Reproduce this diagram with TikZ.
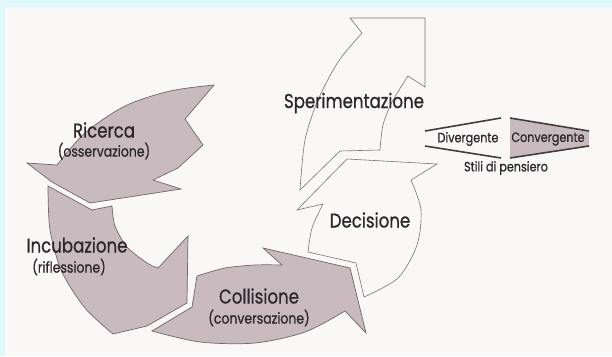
\documentclass[tikz,border=0pt]{standalone}
\usepackage{fontspec}
\setmainfont{Poppins}[FakeStretch=0.83, FakeBold=0.7]
\definecolor{framecyan}{RGB}{222,248,251}
\definecolor{paper}{RGB}{249,248,246}
\definecolor{arrowgray}{RGB}{200,186,191}
\definecolor{edgegray}{RGB}{112,102,107}
\definecolor{thinline}{RGB}{120,116,119}
\definecolor{ink}{RGB}{45,39,44}
\newcommand{\bigtxt}{\fontsize{20}{20}\selectfont}
\newcommand{\midtxt}{\fontsize{15}{15}\selectfont}
\newcommand{\smalltxt}{\fontsize{13.5}{13.5}\selectfont}
\begin{document}
\begin{tikzpicture}[x=1pt,y=-1pt,
  band/.style={fill=arrowgray, draw=edgegray, line width=0.7pt, line join=miter},
  openband/.style={fill=paper, draw=thinline, line width=0.6pt, line join=miter},
  lbl/.style={text=ink, inner sep=0pt},
  legendline/.style={draw=ink!90, line width=1.6pt}]
% page and frame
\fill[framecyan] (0,0) rectangle (612,356);
\fill[paper] (5,7) rectangle (612,356);
\useasboundingbox (0,0) rectangle (612,356);

% Ricerca
\path[band] (214,85) -- (185,119) -- (203,145) -- (178,168) -- (153,180) -- (181,189)
  -- (90,203) -- (52,182) -- (27,163) -- (57,165)
  -- plot[smooth] coordinates {(57,165) (85,133) (125,106) (170,91) (214,85)} -- cycle;

% Incubazione
\path[band] (48,186) -- (92,210) -- (112,206)
  -- plot[smooth] coordinates {(112,206) (115,226) (127,247) (147,263) (158,268)}
  -- (188,236) -- (187,303) -- (147,326) -- (113,334)
  -- plot[smooth] coordinates {(113,334) (85,308) (62,272) (50,230) (48,186)} -- cycle;

% Collisione
\path[band] (152,331) -- (192,307) -- (197,276)
  -- plot[smooth] coordinates {(197,276) (225,268) (255,265) (282,265)}
  -- (263,248) -- (350,268) -- (366,333) -- (345,311)
  -- plot[smooth] coordinates {(345,311) (305,332) (255,343) (200,342) (152,331)} -- cycle;

% Decisione
\path[openband] (308,252) -- (356,263) -- (364,297)
  -- plot[smooth] coordinates {(364,297) (398,278) (417,245) (421,210) (411,180)}
  -- (437,164) -- (347,159) -- (297,210) -- (323,204)
  -- plot[smooth] coordinates {(323,204) (312,228) (308,252)} -- cycle;

% Sperimentazione
\path[openband] (300,190) -- (340,151) -- (380,150)
  -- plot[smooth] coordinates {(380,150) (383,125) (392,102) (408,76)}
  -- (425,87) -- (425,18) -- (350,18) -- (362,33)
  -- plot[smooth] coordinates {(362,33) (338,62) (318,100) (305,140) (300,190)} -- cycle;

% labels of the cycle
\node[lbl, font=\bigtxt] (ricerca) at (104,130) {Ricerca};
\node[lbl, font=\midtxt] (osserv) at (104,151) {(osservazione)};
\node[lbl, font=\bigtxt] (incub) at (77,245) {Incubazione};
\node[lbl, font=\midtxt] (rifless) at (69,267) {(riflessione)};
\node[lbl, font=\bigtxt] (collis) at (259,296) {Collisione};
\node[lbl, font=\midtxt] (convers) at (259,318) {(conversazione)};
\node[lbl, font=\bigtxt] (decis) at (370,220) {Decisione};
\node[lbl, font=\bigtxt] (sperim) at (354,103) {Sperimentazione};

% thinking styles
\path[fill=arrowgray] (510,118) -- (589,131) -- (589,146) -- (510,158) -- cycle;
\coordinate (dl1) at (425,131); \coordinate (dr1) at (501,118);
\coordinate (dl2) at (425,146); \coordinate (dr2) at (501,158);
\coordinate (cl1) at (510,118); \coordinate (cr1) at (589,131);
\coordinate (cl2) at (510,158); \coordinate (cr2) at (589,146);
\draw[legendline] (dl1) -- (dr1);
\draw[legendline] (dl2) -- (dr2);
\draw[legendline] (cl1) -- (cr1);
\draw[legendline] (cl2) -- (cr2);
\node[lbl, font=\smalltxt] (diverg) at (468,139) {Divergente};
\node[lbl, font=\smalltxt] (converg) at (548,139) {Convergente};
\node[lbl, font=\smalltxt] (stili) at (506,168) {Stili di pensiero};
\end{tikzpicture}
\end{document}
